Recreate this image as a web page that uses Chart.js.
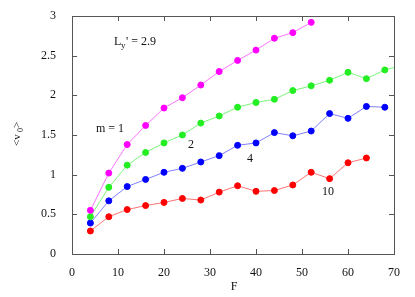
<!DOCTYPE html>
<html>
<head>
<meta charset="utf-8">
<script src="https://cdn.jsdelivr.net/npm/chart.js@4"></script>
<style>
  html, body { margin: 0; padding: 0; background: #fff; }
  #wrap { width: 415px; height: 297px; position: relative; }
</style>
</head>
<body>
<div id="wrap"><canvas id="chart"></canvas></div>
<script>
// F values and <v0> for each m
const fM1 = [4, 8, 12, 16, 20, 24, 28, 32, 36, 40, 44, 48, 52];
const vM1 = [0.55, 1.02, 1.38, 1.62, 1.84, 1.97, 2.13, 2.30, 2.44, 2.57, 2.72, 2.79, 2.92];
const fM2 = [4, 8, 12, 16, 20, 24, 28, 32, 36, 40, 44, 48, 52, 56, 60, 64, 68, 72];
const vM2 = [0.47, 0.84, 1.12, 1.28, 1.40, 1.50, 1.65, 1.74, 1.85, 1.91, 1.95, 2.06, 2.12, 2.19, 2.29, 2.21, 2.32, 2.38];
const fM4 = [4, 8, 12, 16, 20, 24, 28, 32, 36, 40, 44, 48, 52, 56, 60, 64, 68];
const vM4 = [0.39, 0.67, 0.85, 0.94, 1.03, 1.08, 1.16, 1.24, 1.37, 1.40, 1.53, 1.49, 1.55, 1.77, 1.71, 1.86, 1.85];
const fM10 = [4, 8, 12, 16, 20, 24, 28, 32, 36, 40, 44, 48, 52, 56, 60, 64];
const vM10 = [0.29, 0.47, 0.56, 0.61, 0.65, 0.70, 0.68, 0.78, 0.86, 0.79, 0.80, 0.87, 1.03, 0.95, 1.15, 1.21];

const xTicks = [0, 10, 20, 30, 40, 50, 60, 70];
const yTicks = [0, 0.5, 1, 1.5, 2, 2.5, 3];

const serif = '"Liberation Serif", "DejaVu Serif", serif';

function pts(xs, ys) {
    return xs.map((x, i) => ({ x: x, y: ys[i] }));
}

function series(xs, ys, color, lineColor) {
    return {
        data: pts(xs, ys),
        borderColor: lineColor,
        backgroundColor: color,
        pointBackgroundColor: color,
        pointBorderColor: color,
        pointRadius: 3,
        borderWidth: 1,
        tension: 0
    };
}

// frame, inward ticks and the text labels
const framePlugin = {
    id: 'frame',
    afterDraw(chart) {
        const ctx = chart.ctx;
        const a = chart.chartArea;
        const xs = chart.scales.x;
        const ys = chart.scales.y;
        ctx.save();
        ctx.strokeStyle = '#555';
        ctx.lineWidth = 1;
        ctx.strokeRect(a.left + 0.5, a.top + 0.5, a.right - a.left, a.bottom - a.top);
        ctx.beginPath();
        xTicks.forEach(v => {
            const px = Math.round(xs.getPixelForValue(v)) + 0.5;
            ctx.moveTo(px, a.bottom); ctx.lineTo(px, a.bottom - 5);
            ctx.moveTo(px, a.top); ctx.lineTo(px, a.top + 5);
        });
        yTicks.forEach(v => {
            const py = Math.round(ys.getPixelForValue(v)) + 0.5;
            ctx.moveTo(a.left, py); ctx.lineTo(a.left + 5, py);
            ctx.moveTo(a.right, py); ctx.lineTo(a.right - 5, py);
        });
        ctx.stroke();

        ctx.fillStyle = '#111';
        ctx.textBaseline = 'alphabetic';
        ctx.textAlign = 'left';
        ctx.font = '12px ' + serif;
        // L_y' = 2.9
        ctx.fillText('L', 114, 45);
        ctx.font = '9px ' + serif;
        ctx.fillText('y', 121, 48);
        ctx.font = '12px ' + serif;
        ctx.fillText("' = 2.9", 126, 45);

        ctx.fillText('m = 1', 96, 132);
        ctx.fillText('2', 188, 148);
        ctx.fillText('4', 247, 162);
        ctx.fillText('10', 322, 195);

        // x axis title
        ctx.textAlign = 'center';
        ctx.fillText('F', 234, 290);

        // y axis title, rotated
        ctx.translate(20, 135);
        ctx.rotate(-Math.PI / 2);
        ctx.textAlign = 'left';
        ctx.font = '11px ' + serif;
        ctx.fillText('<v', -11, 0);
        ctx.font = '8px ' + serif;
        ctx.fillText('0', 3, 3);
        ctx.font = '11px ' + serif;
        ctx.fillText('>', 7, 0);
        ctx.restore();
    }
};

const ctx = document.getElementById('chart').getContext('2d');
new Chart(ctx, {
    type: 'line',
    data: {
        datasets: [
            series(fM1, vM1, '#ff00ff', 'rgba(255, 0, 255, 0.55)'),
            series(fM2, vM2, '#22ee22', 'rgba(34, 238, 34, 0.6)'),
            series(fM4, vM4, '#0000ff', 'rgba(0, 0, 255, 0.5)'),
            series(fM10, vM10, '#ff0000', 'rgba(255, 0, 0, 0.55)')
        ]
    },
    options: {
        responsive: true,
        maintainAspectRatio: false,
        animation: false,
        layout: { padding: { left: 0, right: 21, top: 16, bottom: 0 } },
        plugins: {
            legend: { display: false },
            tooltip: { enabled: false }
        },
        scales: {
            x: {
                type: 'linear',
                min: 0,
                max: 70,
                afterBuildTicks: (s) => { s.ticks = xTicks.map(v => ({ value: v })); },
                afterFit: (s) => { s.height = 43; },
                grid: { display: false },
                border: { display: false },
                ticks: {
                    color: '#111',
                    padding: 4,
                    font: { family: serif, size: 12 }
                }
            },
            y: {
                type: 'linear',
                min: 0,
                max: 3,
                afterBuildTicks: (s) => { s.ticks = yTicks.map(v => ({ value: v })); },
                afterFit: (s) => { s.width = 72; },
                grid: { display: false },
                border: { display: false },
                ticks: {
                    color: '#111',
                    padding: 8,
                    font: { family: serif, size: 12 },
                    callback: (v) => String(v)
                }
            }
        }
    },
    plugins: [framePlugin]
});
</script>
</body>
</html>
